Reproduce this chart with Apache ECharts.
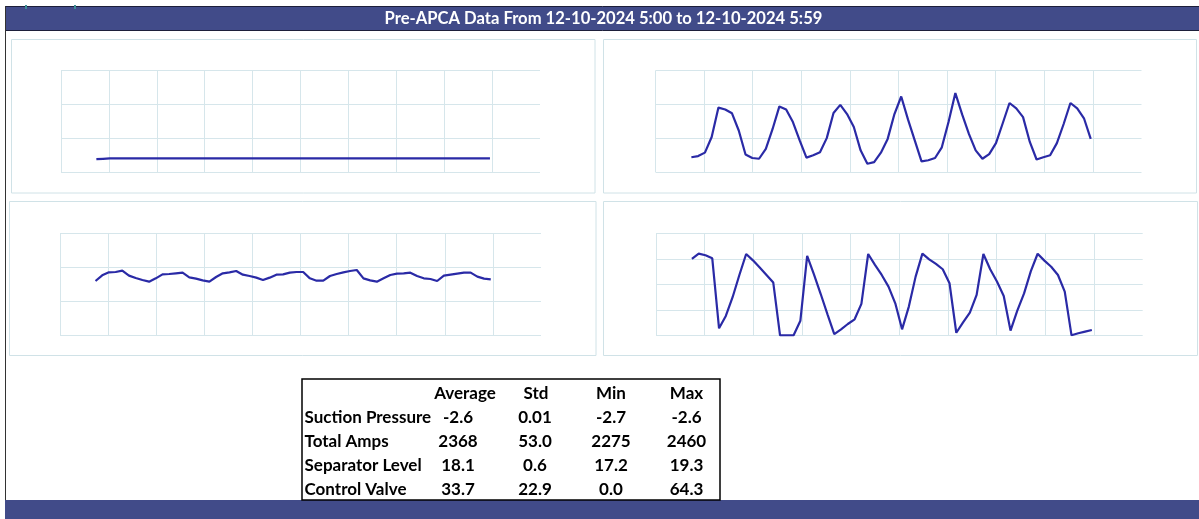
<!DOCTYPE html>
<html><head><meta charset="utf-8">
<script src="https://cdn.jsdelivr.net/npm/echarts@6/dist/echarts.min.js"></script>
<style>html,body{margin:0;padding:0;background:#fff}#c{width:1199px;height:519px}</style>
</head><body><div id="c"></div>
<script>
const titleText = 'Pre-APCA Data From 12-10-2024 5:00 to 12-10-2024 5:59';
// minute offsets from 5:00 (5:00 .. 5:59)
const minutes = [];
for (let m = 0; m < 60; m++) minutes.push(m);

const suctionPressure = [-2.62,-2.61,-2.6,-2.6,-2.6,-2.6,-2.6,-2.6,-2.6,-2.6,
  -2.6,-2.6,-2.6,-2.6,-2.6,-2.6,-2.6,-2.6,-2.6,-2.6,
  -2.6,-2.6,-2.6,-2.6,-2.6,-2.6,-2.6,-2.6,-2.6,-2.6,
  -2.6,-2.6,-2.6,-2.6,-2.6,-2.6,-2.6,-2.6,-2.6,-2.6,
  -2.6,-2.6,-2.6,-2.6,-2.6,-2.6,-2.6,-2.6,-2.6,-2.6,
  -2.6,-2.6,-2.6,-2.6,-2.6,-2.6,-2.6,-2.6,-2.6,-2.6];

const totalAmps = [2292,2295,2304,2345,2422,2417,2407,2362,2299,2290,
  2288,2314,2366,2425,2417,2384,2336,2291,2297,2305,
  2342,2408,2429,2405,2371,2310,2275,2279,2304,2340,
  2405,2451,2391,2336,2281,2284,2290,2318,2385,2460,
  2404,2353,2310,2288,2300,2329,2381,2434,2420,2397,
  2332,2286,2292,2297,2329,2379,2434,2420,2394,2340];

const separatorLevel = [17.32,18.34,18.88,18.94,19.18,18.28,17.86,17.50,17.20,17.80,
  18.52,18.58,18.70,18.82,17.98,17.74,17.44,17.20,18.04,18.70,
  18.88,19.12,18.46,18.22,17.92,17.50,17.92,18.46,18.52,18.82,
  18.94,18.94,17.80,17.38,17.38,18.22,18.58,18.88,19.12,19.30,
  17.80,17.44,17.20,17.80,18.40,18.64,18.70,18.82,18.22,17.80,
  17.68,17.32,18.28,18.46,18.64,18.82,18.82,18.10,17.74,17.62];

const controlValve = [60.1,64.3,63.0,60.6,5.5,15.2,30.0,47.5,64.0,59.0,
  53.3,47.5,41.5,0.0,0.0,0.0,11.5,62.5,47.9,32.5,
  16.5,1.0,4.7,8.9,12.6,24.7,64.0,55.4,47.5,38.3,
  25.2,4.7,22.6,46.2,64.3,59.8,56.2,52.0,41.0,2.0,
  10.2,17.8,31.8,64.0,52.0,42.3,31.0,3.7,19.4,33.0,
  50.5,64.2,58.8,54.0,47.5,34.4,0.0,1.6,2.9,4.2];

const statHeaders = ['Average','Std','Min','Max'];
const statRows = ['Suction Pressure','Total Amps','Separator Level','Control Valve'];
const statAvg = ['-2.6','2368','18.1','33.7'];
const statStd = ['0.01','53.0','0.6','22.9'];
const statMin = ['-2.7','2275','17.2','0.0'];
const statMax = ['-2.6','2460','19.3','64.3'];

const LINE = '#2a2aa6', GRIDC = '#d6e6eb', BOXC = '#d0e2e7', BAR = '#414b89';
const FONT = 'Lato, "Open Sans", sans-serif';

const panels = [
  {data: suctionPressure, grid:{left:61, top:70.5, width:479, height:101.5}, yMin:-3, yMax:0, ySplits:3, box:[11.5,39.5,583.5,153.5]},
  {data: totalAmps, grid:{left:655.5, top:70.5, width:486, height:101.5}, yMin:2253.3, yMax:2519.1, ySplits:3, box:[603.5,39.5,593,153.5]},
  {data: separatorLevel, grid:{left:60, top:233.7, width:481, height:101.6}, yMin:7.55, yMax:25.83, ySplits:3, box:[9.5,201.5,586.5,154]},
  {data: controlValve, grid:{left:656, top:233.7, width:486.7, height:101.6}, yMin:0, yMax:80, ySplits:4, box:[603.5,201.5,594,154]}
];
const X_MIN = -5.3, X_MAX = 66.5;

const grids = [], xAxes = [], yAxes = [], series = [], graphics = [];
panels.forEach((p, k) => {
  grids.push(Object.assign({containLabel:false}, p.grid));
  xAxes.push({gridIndex:k, type:'value', min:0, max:10, interval:1,
    axisLine:{show:false}, axisTick:{show:false}, axisLabel:{show:false},
    splitLine:{show:true, showMaxLine:false, lineStyle:{color:GRIDC, width:1}}});
  xAxes.push({gridIndex:k, type:'value', min:X_MIN, max:X_MAX, show:false});
  yAxes.push({gridIndex:k, type:'value', min:0, max:p.ySplits, interval:1,
    axisLine:{show:false}, axisTick:{show:false}, axisLabel:{show:false},
    splitLine:{show:true, lineStyle:{color:GRIDC, width:1}}});
  yAxes.push({gridIndex:k, type:'value', min:p.yMin, max:p.yMax, show:false});
  series.push({type:'line', xAxisIndex:2*k+1, yAxisIndex:2*k+1, symbol:'none',
    data: minutes.map((m, i) => [m, p.data[i]]),
    lineStyle:{color:LINE, width:2.2}, animation:false, z:5});
  graphics.push({type:'rect', shape:{x:p.box[0], y:p.box[1], width:p.box[2], height:p.box[3]},
    style:{fill:null, stroke:BOXC, lineWidth:1}, z:-1});
});

// title bar
graphics.push({type:'rect', shape:{x:5.5, y:6.5, width:1194, height:24}, style:{fill:BAR, stroke:'#1d1f3a', lineWidth:1}, z:10});
graphics.push({type:'text', x:603.5, y:19, style:{text:titleText, fill:'#ffffff', font:'bold 16.6px ' + FONT, textAlign:'center', textVerticalAlign:'middle'}, z:11});
// small marks above title bar
graphics.push({type:'rect', shape:{x:25, y:5, width:2, height:4}, style:{fill:'#3d8d95'}, z:12});
graphics.push({type:'rect', shape:{x:74, y:5, width:2, height:4}, style:{fill:'#3d8d95'}, z:12});
// left frame line
graphics.push({type:'line', shape:{x1:5.5, y1:6, x2:5.5, y2:500}, style:{stroke:'#333', lineWidth:1}, z:10});
// bottom bar
graphics.push({type:'rect', shape:{x:5, y:500, width:1194, height:19}, style:{fill:BAR}, z:10});

// stats table
graphics.push({type:'rect', shape:{x:302, y:379, width:418, height:121}, style:{fill:null, stroke:'#000', lineWidth:1.5}, z:10});
const rowY = [394, 418, 441.5, 466, 490];
const colX = [458, 535, 611, 686.5];
const headX = [465, 536, 611, 686.5];
const cols = [statAvg, statStd, statMin, statMax];
const TFONT = 'bold 17px ' + FONT;
statHeaders.forEach((h, j) => {
  graphics.push({type:'text', x:headX[j], y:rowY[0], style:{text:h, fill:'#000', font:TFONT, textAlign:'center', textVerticalAlign:'middle'}, z:11});
});
statRows.forEach((r, i) => {
  graphics.push({type:'text', x:304.5, y:rowY[i+1], style:{text:r, fill:'#000', font:TFONT, textAlign:'left', textVerticalAlign:'middle'}, z:11});
  cols.forEach((c, j) => {
    graphics.push({type:'text', x:colX[j], y:rowY[i+1], style:{text:c[i], fill:'#000', font:TFONT, textAlign:'center', textVerticalAlign:'middle'}, z:11});
  });
});

const chart = echarts.init(document.getElementById('c'), null, {renderer:'canvas'});
chart.setOption({
  backgroundColor:'#ffffff',
  animation:false,
  grid: grids, xAxis: xAxes, yAxis: yAxes, series: series,
  graphic: graphics
});
</script></body></html>
